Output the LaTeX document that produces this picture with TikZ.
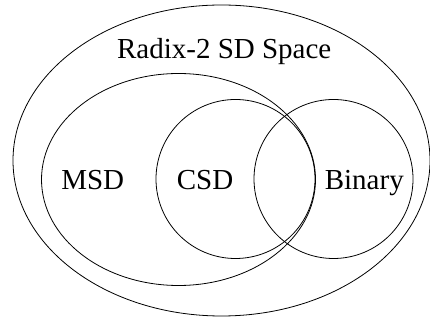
\documentclass[tikz,border=0pt]{standalone}
\usepackage{fontspec}
\setmainfont{Liberation Serif}
\usetikzlibrary{shapes.geometric}

\tikzset{
  set/.style={draw, ellipse, inner sep=0pt, line width=0.8pt},
  setlabel/.style={anchor=base, inner sep=0pt, font=\fontsize{29}{33}\selectfont},
}

\begin{document}
\begin{tikzpicture}[x=1pt, y=1pt]
		\useasboundingbox (0,0) rectangle (430,320);
		% sets
		\node[set, minimum width=417, minimum height=311] (sdspace) at (221.5,159.5) {};
		\node[set, minimum width=274, minimum height=212] (msd) at (178.5,140.5) {};
		\node[set, minimum width=159, minimum height=159] (csd) at (235.5,141) {};
		\node[set, minimum width=159, minimum height=159] (binary) at (333.5,141) {};
		% labels
		\node[setlabel] (sdspacelabel) at (224.2,261.7) {Radix-2 SD Space};
		\node[setlabel] (msdlabel) at (92.7,130.7) {MSD};
		\node[setlabel] (csdlabel) at (205,130.7) {CSD};
		\node[setlabel] (binarylabel) at (364.3,130.7) {Binary};
	\end{tikzpicture}
\end{document}
